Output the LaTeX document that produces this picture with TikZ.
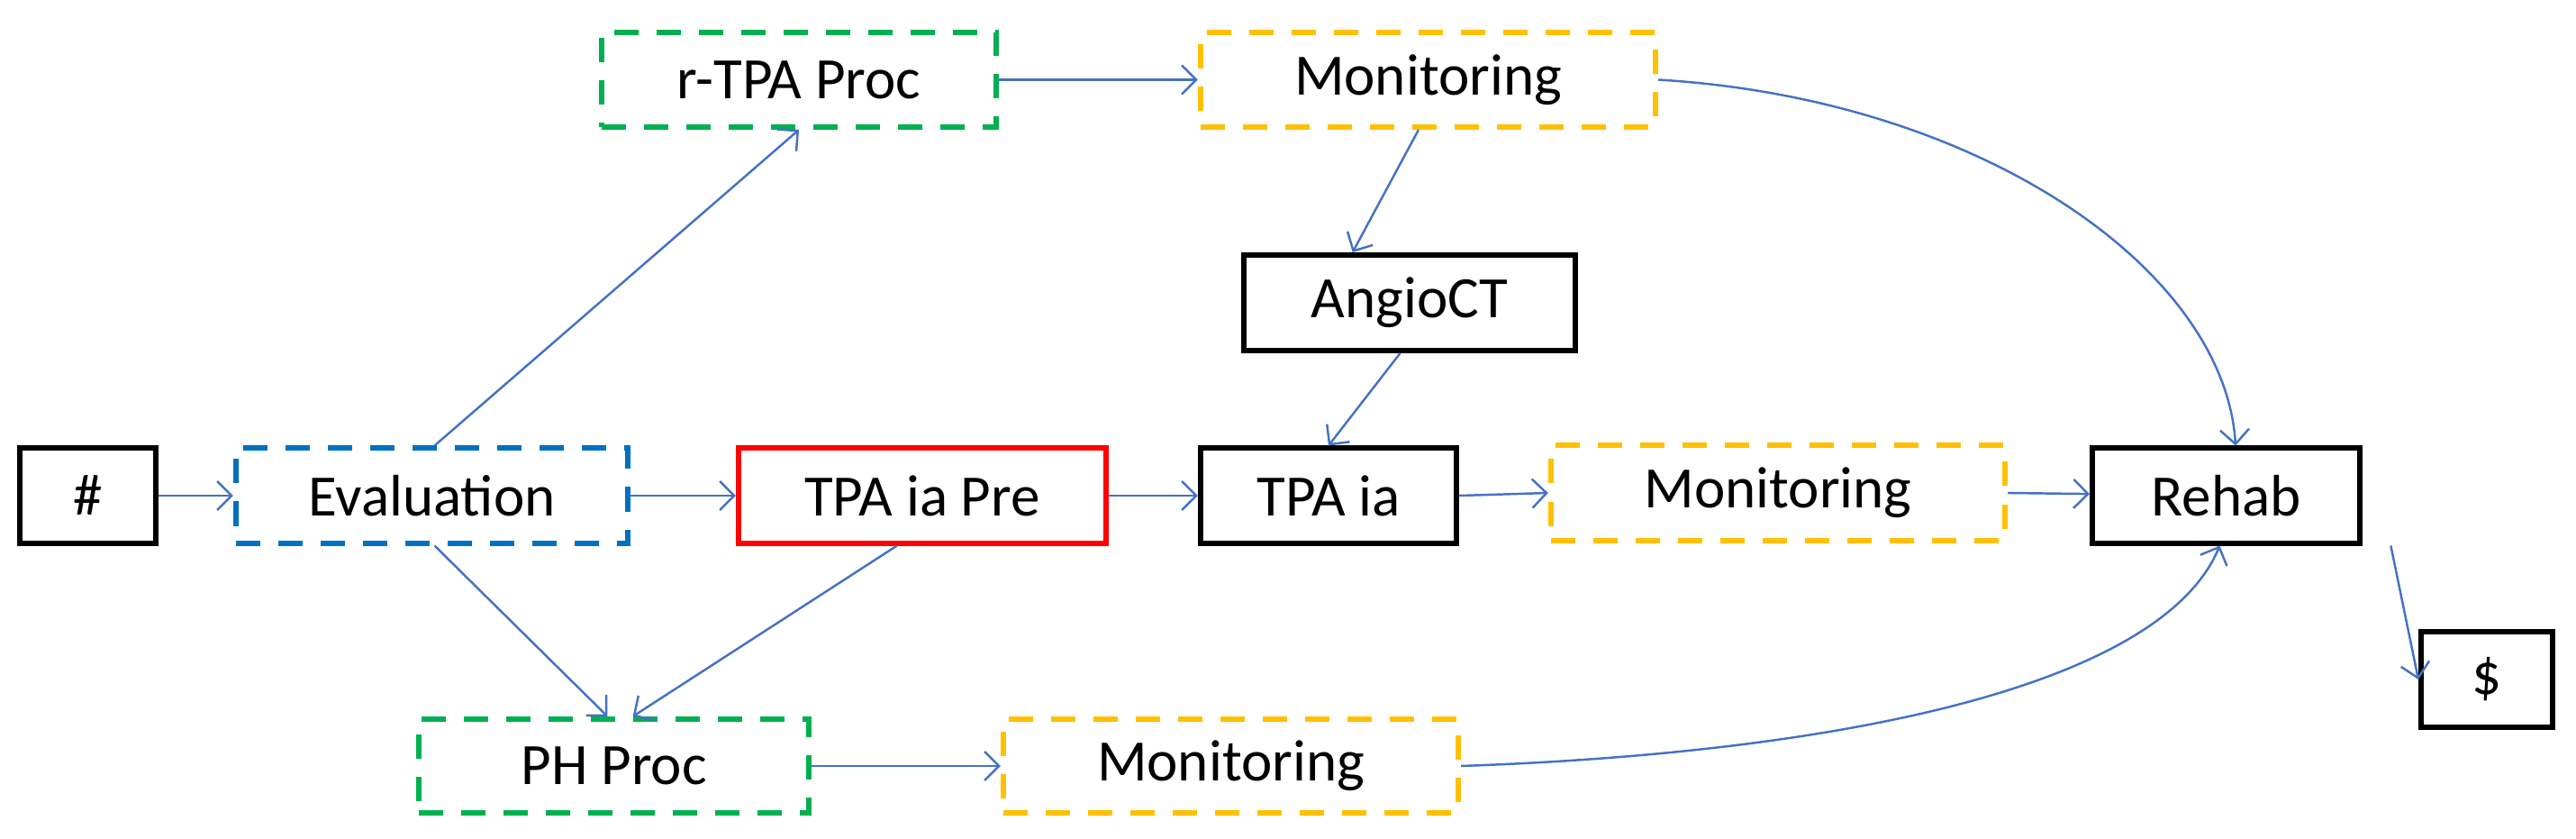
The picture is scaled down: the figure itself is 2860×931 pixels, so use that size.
\documentclass[tikz,border=0pt]{standalone}
\usepackage{fontspec}
\setmainfont{Carlito}
\usetikzlibrary{arrows.meta}
\definecolor{cblue}{RGB}{0,112,192}
\definecolor{cgreen}{RGB}{0,176,80}
\definecolor{corange}{RGB}{255,192,0}
\definecolor{cred}{RGB}{255,0,0}
\definecolor{carrow}{RGB}{68,114,196}
\begin{document}
\begin{tikzpicture}[x=0.01cm,y=-0.01cm,
  box/.style={draw,line width=1.7pt,inner sep=0pt,font=\fontsize{18.5}{22}\selectfont},
  dbox/.style={box,dash pattern=on 0.27cm off 0.2cm},
  arr/.style={draw=carrow,line width=0.7pt,-{Straight Barb[length=0.16cm,width=0.32cm]}}]
\useasboundingbox (0,0) rectangle (2860,931);
\node[box,minimum width=1.51cm,minimum height=1.05cm] (hash) at (97.5,550) {\#};
\node[dbox,draw=cblue,minimum width=4.35cm,minimum height=1.05cm] (eval) at (479.5,550) {Evaluation};
\node[box,draw=cred,minimum width=4.08cm,minimum height=1.05cm] (pre) at (1024,550) {TPA ia Pre};
\node[box,minimum width=2.84cm,minimum height=1.05cm] (tpa) at (1475,550) {TPA ia};
\node[dbox,draw=corange,minimum width=5.04cm,minimum height=1.05cm] (mmid) at (1974,547) {Monitoring};
\node[box,minimum width=2.97cm,minimum height=1.05cm] (rehab) at (2471.5,550) {Rehab};
\node[box,minimum width=1.46cm,minimum height=1.06cm] (dollar) at (2761,754) {\$};
\node[dbox,draw=cgreen,minimum width=4.38cm,minimum height=1.05cm] (rtpa) at (887,88.5) {r-TPA Proc};
\node[dbox,draw=corange,minimum width=5.05cm,minimum height=1.05cm] (mtop) at (1585.5,88.5) {Monitoring};
\node[box,minimum width=3.68cm,minimum height=1.06cm] (angio) at (1565,336) {AngioCT};
\node[dbox,draw=cgreen,minimum width=4.33cm,minimum height=1.04cm] (ph) at (681.5,850) {PH Proc};
\node[dbox,draw=corange,minimum width=5.05cm,minimum height=1.04cm] (mbot) at (1366.5,850) {Monitoring};
\draw[arr] (hash) -- (eval);
\draw[arr] (eval) -- (pre);
\draw[arr] (pre) -- (tpa);
\draw[arr] (tpa.east) -- (mmid.west);
\draw[arr] (mmid.east) -- (rehab);
\draw[arr] (rtpa) -- (mtop);
\draw[arr] (ph) -- (mbot);
\draw[arr] (eval.north) ++(3,0) coordinate (e1) (e1) -- (rtpa.south);
\draw[arr] (eval.south) ++(3,0) coordinate (e2) (e2) -- ([xshift=-2]ph.north);
\draw[arr] ([xshift=-8]pre.south) -- ([xshift=6]ph.north);
\draw[arr] ([xshift=-3]mtop.south) -- ([xshift=-18]angio.north);
\draw[arr] ([xshift=-3]angio.south) -- (tpa.north);
\draw[arr] (mtop.east) .. controls (2200,110) and (2470,300) .. ([xshift=3]rehab.north);
\draw[arr] (mbot.east) .. controls (2050,835) and (2400,760) .. ([xshift=-2]rehab.south);
\draw[arr] ([xshift=52]rehab.south) -- (dollar.west);
\end{tikzpicture}
\end{document}
